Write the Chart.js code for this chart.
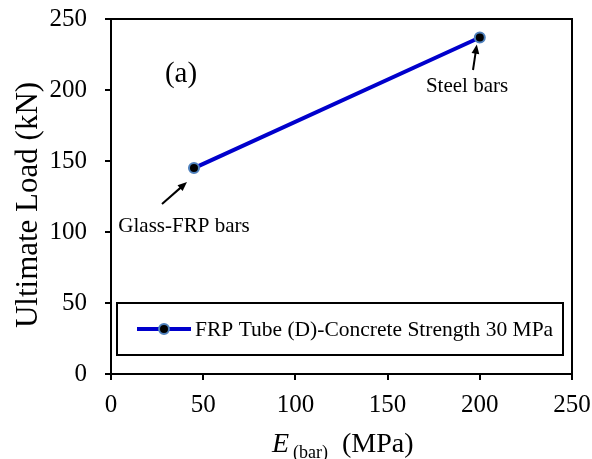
<!DOCTYPE html>
<html>
<head>
<meta charset="utf-8">
<script src="https://cdn.jsdelivr.net/npm/chart.js@4"></script>
<style>
  html, body { margin: 0; padding: 0; background: #fff; }
  #wrap { width: 592px; height: 459px; }
</style>
</head>
<body>
<div id="wrap"><canvas id="chart" width="592" height="459"></canvas></div>
<script>
// data
const seriesLabel = 'FRP Tube (D)-Concrete Strength 30 MPa';
const modulusValues = [45, 200];
const loadValues = [145, 237];
const pointNotes = ['Glass-FRP bars', 'Steel bars'];
const xTicks = [0, 50, 100, 150, 200, 250];
const yTicks = [0, 50, 100, 150, 200, 250];

const serif = "'Liberation Serif', 'Times New Roman', serif";

// frame, annotations, legend and axis titles
const extras = {
    id: 'extras',
    afterDraw(chart) {
        const ctx = chart.ctx;
        const a = chart.chartArea;
        const xs = chart.scales.x, ys = chart.scales.y;
        ctx.save();

        // top and right frame
        ctx.strokeStyle = '#000';
        ctx.lineWidth = 2;
        ctx.beginPath();
        ctx.moveTo(a.left, a.top);
        ctx.lineTo(a.right, a.top);
        ctx.lineTo(a.right, a.bottom);
        ctx.stroke();

        ctx.fillStyle = '#000';
        ctx.textBaseline = 'alphabetic';
        ctx.textAlign = 'center';

        // (a)
        ctx.font = '29px ' + serif;
        ctx.fillText('(a)', 181, 82);

        // point notes with arrows
        ctx.font = '21px ' + serif;
        const p0x = xs.getPixelForValue(modulusValues[0]);
        const p0y = ys.getPixelForValue(loadValues[0]);
        const p1x = xs.getPixelForValue(modulusValues[1]);
        const p1y = ys.getPixelForValue(loadValues[1]);
        ctx.fillText(pointNotes[0], 184, 232);
        ctx.fillText(pointNotes[1], 467, 92);
        arrow(ctx, 162, 204, p0x - 7, p0y + 14);
        arrow(ctx, 473, 70, p1x - 3, p1y + 7);

        // legend
        const lx = 117, ly = 303, lw = 446, lh = 52;
        ctx.strokeStyle = '#000';
        ctx.lineWidth = 2;
        ctx.strokeRect(lx, ly, lw, lh);
        const my = ly + lh / 2;
        ctx.strokeStyle = '#0000cc';
        ctx.lineWidth = 4;
        ctx.beginPath();
        ctx.moveTo(137, my);
        ctx.lineTo(191, my);
        ctx.stroke();
        ctx.beginPath();
        ctx.arc(164, my, 5, 0, Math.PI * 2);
        ctx.fillStyle = '#000';
        ctx.fill();
        ctx.strokeStyle = '#4f81bd';
        ctx.lineWidth = 2;
        ctx.stroke();
        ctx.textAlign = 'left';
        ctx.font = '21.5px ' + serif;
        ctx.fillText(seriesLabel, 195, 336);

        // y title
        ctx.save();
        ctx.translate(37, 205);
        ctx.rotate(-Math.PI / 2);
        ctx.textAlign = 'center';
        ctx.font = '31px ' + serif;
        ctx.fillText('Ultimate Load (kN)', 0, 0);
        ctx.restore();

        // x title: E (bar) (MPa)
        ctx.textAlign = 'left';
        ctx.font = 'italic 28px ' + serif;
        ctx.fillText('E', 272, 452);
        ctx.font = '18px ' + serif;
        ctx.fillText('(bar)', 293, 458);
        ctx.font = '28px ' + serif;
        ctx.fillText('(MPa)', 342, 452);

        ctx.restore();
    }
};

function arrow(ctx, x1, y1, x2, y2) {
    const ang = Math.atan2(y2 - y1, x2 - x1);
    const head = 10;
    ctx.strokeStyle = '#000';
    ctx.fillStyle = '#000';
    ctx.lineWidth = 2;
    ctx.beginPath();
    ctx.moveTo(x1, y1);
    ctx.lineTo(x2 - Math.cos(ang) * head * 0.8, y2 - Math.sin(ang) * head * 0.8);
    ctx.stroke();
    ctx.beginPath();
    ctx.moveTo(x2, y2);
    ctx.lineTo(x2 - head * Math.cos(ang - 0.4), y2 - head * Math.sin(ang - 0.4));
    ctx.lineTo(x2 - head * Math.cos(ang + 0.4), y2 - head * Math.sin(ang + 0.4));
    ctx.closePath();
    ctx.fill();
}

new Chart(document.getElementById('chart'), {
    type: 'scatter',
    data: {
        datasets: [{
            label: seriesLabel,
            data: modulusValues.map((x, i) => ({ x: x, y: loadValues[i] })),
            showLine: true,
            borderColor: '#0000cc',
            borderWidth: 4,
            pointRadius: 5,
            pointBackgroundColor: '#000',
            pointBorderColor: '#4f81bd',
            pointBorderWidth: 2
        }]
    },
    options: {
        responsive: false,
        animation: false,
        layout: { padding: { top: 19, right: 20, left: 0, bottom: 0 } },
        plugins: { legend: { display: false }, tooltip: { enabled: false } },
        scales: {
            x: {
                type: 'linear',
                min: 0, max: 250,
                afterBuildTicks: s => { s.ticks = xTicks.map(v => ({ value: v })); },
                afterFit: s => {
                    s.height = 85;
                    s.paddingLeft = 0; s.paddingRight = 0;
                },
                grid: { drawOnChartArea: false, color: '#000', tickLength: 6, lineWidth: 2 },
                border: { color: '#000', width: 2 },
                ticks: { color: '#000', font: { family: serif, size: 25 }, padding: 10, maxRotation: 0 }
            },
            y: {
                type: 'linear',
                min: 0, max: 250,
                afterBuildTicks: s => { s.ticks = yTicks.map(v => ({ value: v })); },
                afterFit: s => {
                    s.width = 111;
                    s.paddingTop = 0; s.paddingBottom = 0;
                },
                grid: { drawOnChartArea: false, color: '#000', tickLength: 6, lineWidth: 2 },
                border: { color: '#000', width: 2 },
                ticks: { color: '#000', font: { family: serif, size: 25 }, padding: 18 }
            }
        }
    },
    plugins: [extras]
});
</script>
</body>
</html>
